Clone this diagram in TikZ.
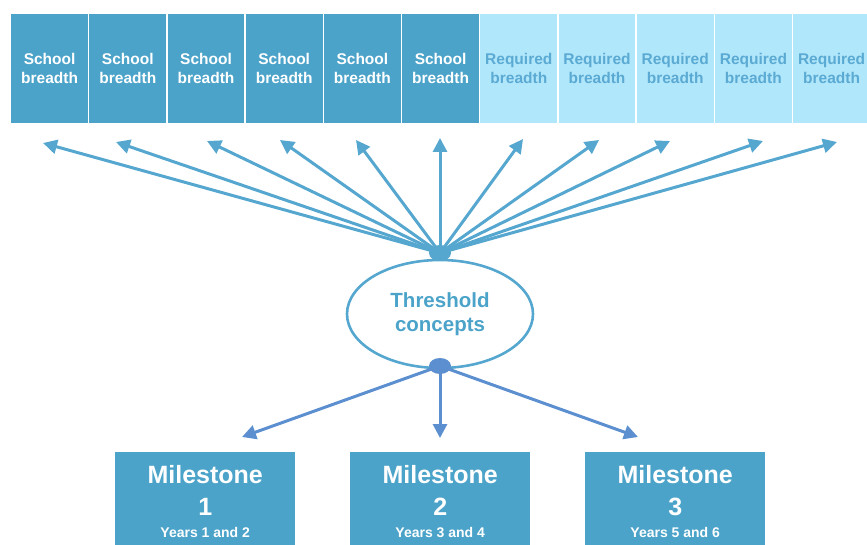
\documentclass[tikz,border=0pt]{standalone}
\usepackage{fontspec}
\setmainfont{Liberation Sans}
\usetikzlibrary{arrows.meta,shapes.geometric}
\definecolor{deepblue}{HTML}{4BA3C9}
\definecolor{paleblue}{HTML}{B1E7FB}
\definecolor{paletext}{HTML}{5AAAD3}
\definecolor{uparrow}{HTML}{55A7CF}
\definecolor{downarrow}{HTML}{5B8FD0}
\tikzset{
  schoolbox/.style={draw=white, line width=1.2pt, fill=deepblue, text=white,
    minimum width=78pt, minimum height=110pt, inner sep=0pt, anchor=north west,
    align=center, font=\fontsize{15.5}{19}\selectfont\bfseries},
  reqbox/.style={schoolbox, fill=paleblue, text=paletext},
  milebox/.style={fill=deepblue, text=white, minimum width=180pt, minimum height=100pt,
    inner sep=0pt, anchor=north west},
  uplink/.style={draw=uparrow, line width=3pt, -{Triangle[length=14pt,width=14pt]}},
  downlink/.style={draw=downarrow, line width=3pt, -{Triangle[length=14pt,width=14pt]}},
  hub/.style={ellipse, inner sep=0pt, minimum width=22pt, minimum height=16pt},
}
\begin{document}
\begin{tikzpicture}[x=1pt,y=-1pt]
\useasboundingbox (0,0) rectangle (867,545);
\begin{scope}
\clip (0,0) rectangle (867,545);
% breadth boxes along the top
\foreach \i in {0,...,5}
  \node[schoolbox] (b\i) at (10+78.2*\i,13) {School\\breadth};
\foreach \i in {6,...,10}
  \node[reqbox] (b\i) at (10+78.2*\i,13) {Required\\breadth};

% milestone boxes
\node[milebox] (m1) at (115,452) {};
\node[milebox] (m2) at (350,452) {};
\node[milebox] (m3) at (585,452) {};
\end{scope}
\foreach \k/\yrs in {1/Years 1 and 2,2/Years 3 and 4,3/Years 5 and 6}{
  \node[text=white, font=\fontsize{25}{29}\selectfont\bfseries, anchor=base]
    (mt\k) at ([yshift=-31pt]m\k.north) {Milestone};
  \node[text=white, font=\fontsize{25}{29}\selectfont\bfseries, anchor=base]
    (mn\k) at ([yshift=-63pt]m\k.north) {\k};
  \node[text=white, font=\fontsize{14}{16}\selectfont\bfseries, anchor=base]
    (my\k) at ([yshift=-85pt]m\k.north) {\yrs};
}

% threshold concepts
\node[ellipse, draw=uparrow, line width=2.6pt, minimum width=186pt, minimum height=108pt,
  text=deepblue, align=center, font=\fontsize{20.5}{24}\selectfont\bfseries]
  (tc) at (440,314) {Threshold\\concepts};
\node[hub, fill=uparrow] (top) at (440,253) {};
\node[hub, fill=downarrow] (bot) at (440,366) {};

% arrow targets
\coordinate (t0) at (43,143);
\coordinate (t1) at (116,142);
\coordinate (t2) at (207,141);
\coordinate (t3) at (280,140);
\coordinate (t4) at (356,140);
\coordinate (t5) at (440,138);
\coordinate (t6) at (523,139);
\coordinate (t7) at (599,140);
\coordinate (t8) at (670,141);
\coordinate (t9) at (763,141);
\coordinate (t10) at (837,142);
\foreach \i in {0,...,10}
  \draw[uplink] (top.center) -- (t\i);

\coordinate (d1) at (242,437);
\coordinate (d2) at (440,438);
\coordinate (d3) at (638,437);
\foreach \i in {1,2,3}
  \draw[downlink] (bot.center) -- (d\i);
\end{tikzpicture}
\end{document}
